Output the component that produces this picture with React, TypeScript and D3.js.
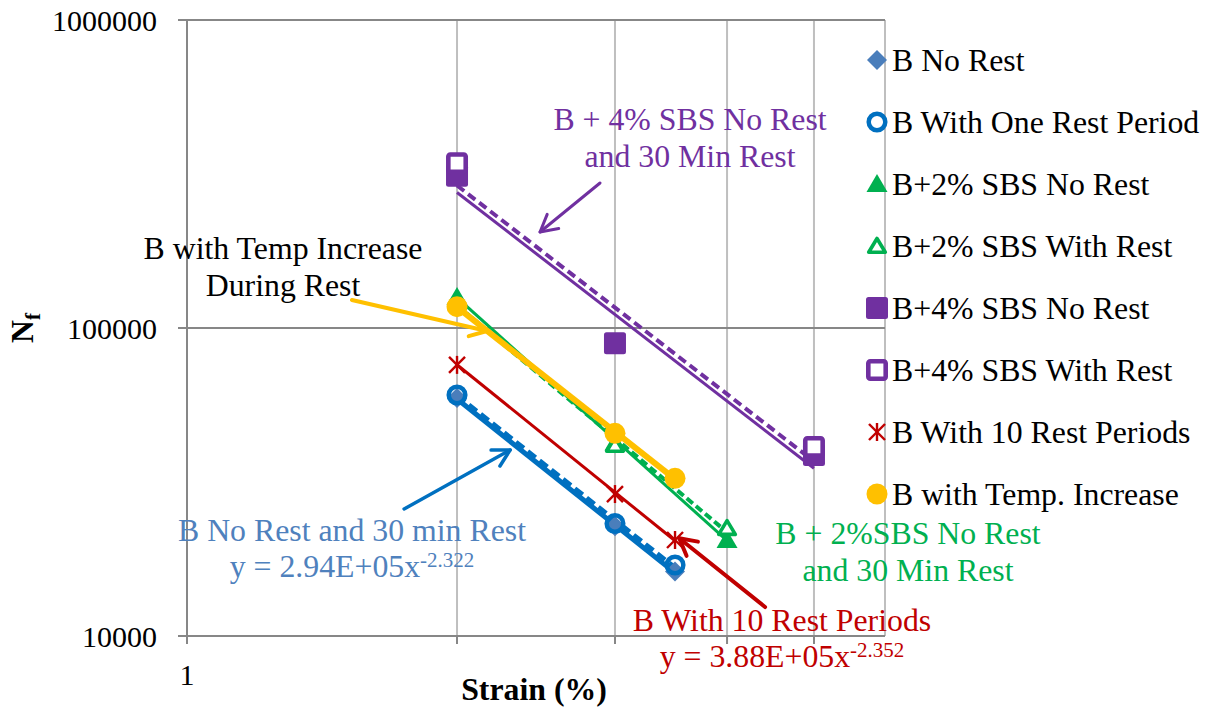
import React from 'react';
import * as d3 from 'd3';

// ---- data ----
const seriesNames = [
  'B No Rest',
  'B With One Rest Period',
  'B+2% SBS No Rest',
  'B+2% SBS With Rest',
  'B+4% SBS No Rest',
  'B+4% SBS With Rest',
  'B With 10 Rest Periods',
  'B with Temp. Increase',
];

// [strain %, cycles to failure]
const bNoRest: [number, number][] = [[2, 59300], [3, 22700], [3.5, 16200]];
const bOneRest: [number, number][] = [[2, 60600], [3, 23200], [3.5, 17000]];
const sbs2NoRest: [number, number][] = [[2, 126000], [3, 42500], [4, 20500]];
const sbs2WithRest: [number, number][] = [[2, 121000], [3, 41700], [4, 22400]];
const sbs4NoRest: [number, number][] = [[2, 312000], [3, 89200], [5, 38700]];
const sbs4WithRest: [number, number][] = [[2, 343000], [5, 41100]];
const bTenRest: [number, number][] = [[2, 75900], [3, 28900], [3.5, 20500]];
const bTempIncrease: [number, number][] = [[2, 117300], [3, 45500], [3.5, 32500]];

const seriesData = [bNoRest, bOneRest, sbs2NoRest, sbs2WithRest, sbs4NoRest, sbs4WithRest, bTenRest, bTempIncrease];
const markerKinds = ['diamond', 'circleOpen', 'triFilled', 'triOpen', 'squareFilled', 'squareOpen', 'star', 'circleFilled'];
const markerColors = ['#4A7EBB', '#0070C0', '#00B050', '#00B050', '#7030A0', '#7030A0', '#C00000', '#FFC000'];

// power-law trendlines  Nf = a * strain^b
const trendCoef = [2.94e5, 2.97e5, 7.71e5, 6.46e5, 1.31e6, 1.38e6, 3.88e5, 5.76e5];
const trendExp = [-2.322, -2.3, -2.62, -2.447, -2.25, -2.25, -2.352, -2.3];
const trendFrom = [2, 2, 2, 2, 2, 2, 2, 2];
const trendTo = [3.5, 3.5, 4, 4, 5, 5, 3.5, 3.5];
const trendColors = ['#0070C0', '#0070C0', '#00B050', '#00B050', '#7030A0', '#7030A0', '#C00000', '#FFC000'];
const trendWidths = [5, 5, 3, 4, 3, 4, 3, 6];
const trendDashes = [null, '10 5', null, '8 4', null, '9 5', null, null];

const xGridValues = [2, 3, 4, 5, 6];
const xTickValues = [1, 2, 3, 4, 5];
const xTickLabels = ['1'];
const yTickValues = [10000, 100000, 1000000];
const yTickLabels = ['10000', '100000', '1000000'];

// annotation arrows in data space: [tailStrain, tailNf, tipStrain, tipNf]
const arrowColors = ['#7030A0', '#FFC000', '#0070C0', '#C00000'];
const arrowWidths = [3, 4, 3.5, 4];
const arrowPaths: [number, number, number, number][] = [
  [2.887, 295700, 2.475, 205000],
  [1.527, 123300, 2.16, 97800],
  [1.746, 25850, 2.292, 40180],
  [4.41, 12420, 3.538, 20760],
];

const FONT = "'Liberation Serif', 'Times New Roman', serif";

function Marker({ kind, cx, cy, color }: { kind: string; cx: number; cy: number; color: string }) {
  const t = `translate(${cx},${cy})`;
  switch (kind) {
    case 'diamond':
      return <path transform={t} d="M0,-10L10,0L0,10L-10,0Z" fill={color} />;
    case 'circleOpen':
      return <circle cx={cx} cy={cy} r={8.3} fill="none" stroke={color} strokeWidth={4.5} />;
    case 'triFilled':
      return <path transform={t} d="M0,-10L10.5,8L-10.5,8Z" fill={color} />;
    case 'triOpen':
      return <path transform={t} d="M0,-7.5L8.3,6.3L-8.3,6.3Z" fill="#fff" stroke={color} strokeWidth={3.6} strokeLinejoin="round" />;
    case 'squareFilled':
      return <rect transform={t} x={-11} y={-11} width={22} height={22} rx={2.5} fill={color} />;
    case 'squareOpen':
      return <rect transform={t} x={-8.7} y={-8.7} width={17.4} height={17.4} rx={2} fill="#fff" stroke={color} strokeWidth={4.6} />;
    case 'star':
      return (
        <g transform={t} stroke={color} strokeWidth={2.4}>
          <line x1={-8} y1={-8} x2={8} y2={8} />
          <line x1={-8} y1={8} x2={8} y2={-8} />
          <line x1={0} y1={-9} x2={0} y2={9} />
        </g>
      );
    case 'circleFilled':
      return <circle cx={cx} cy={cy} r={10.5} fill={color} />;
    default:
      return null;
  }
}

function Arrow({ x1, y1, x2, y2, color, width }: { x1: number; y1: number; x2: number; y2: number; color: string; width: number }) {
  const ang = Math.atan2(y2 - y1, x2 - x1);
  const len = 19;
  const spread = 0.5;
  const a1 = ang + Math.PI - spread;
  const a2 = ang + Math.PI + spread;
  const h1 = [x2 + len * Math.cos(a1), y2 + len * Math.sin(a1)];
  const h2 = [x2 + len * Math.cos(a2), y2 + len * Math.sin(a2)];
  return (
    <g stroke={color} strokeWidth={width} fill="none" strokeLinecap="round" strokeLinejoin="round">
      <line x1={x1} y1={y1} x2={x2} y2={y2} />
      <path d={`M${h1[0]},${h1[1]}L${x2},${y2}L${h2[0]},${h2[1]}`} />
    </g>
  );
}

export default function App() {
  const W = 1214;
  const H = 710;
  const x = d3.scaleLog().domain([1, 6]).range([187, 885]);
  const y = d3.scaleLog().domain([1e4, 1e6]).range([636, 20]);
  const [x0, x1] = x.range();
  const [yb, yt] = y.range();

  const line = d3
    .line<[number, number]>()
    .x((d) => x(d[0]))
    .y((d) => y(d[1]));

  const legendX = 877;
  const legendY0 = 60;
  const legendStep = 62;
  const fs = 31.8;

  return (
    <svg
      width={W}
      height={H}
      style={{ position: 'absolute', left: 0, top: 0, background: '#fff' }}
      fontFamily={FONT}
    >
      <rect width={W} height={H} fill="#fff" />

      {/* vertical gridlines */}
      {xGridValues.map((v) => (
        <line key={`vg${v}`} x1={x(v)} x2={x(v)} y1={yt} y2={yb} stroke="#BFBFBF" strokeWidth={2} />
      ))}
      {/* horizontal gridlines */}
      {yTickValues.slice(1).map((v) => (
        <line key={`hg${v}`} x1={x0} x2={x1} y1={y(v)} y2={y(v)} stroke="#878787" strokeWidth={2} />
      ))}

      {/* axes */}
      <line x1={x0} x2={x0} y1={yt} y2={yb} stroke="#878787" strokeWidth={2} />
      <line x1={x0} x2={x1} y1={yb} y2={yb} stroke="#878787" strokeWidth={2} />
      {xTickValues.map((v) => (
        <line key={`xt${v}`} x1={x(v)} x2={x(v)} y1={yb} y2={yb + 8} stroke="#878787" strokeWidth={2} />
      ))}
      {yTickValues.map((v) => (
        <line key={`yt${v}`} x1={x0 - 9} x2={x0} y1={y(v)} y2={y(v)} stroke="#878787" strokeWidth={2} />
      ))}

      {/* tick labels */}
      {yTickValues.map((v, i) => (
        <text key={`yl${v}`} x={157} y={y(v) + 11} fontSize={30} textAnchor="end" fill="#000">
          {yTickLabels[i]}
        </text>
      ))}
      {xTickLabels.map((lab) => (
        <text key={`xl${lab}`} x={x(+lab)} y={685} fontSize={30} textAnchor="middle" fill="#000">
          {lab}
        </text>
      ))}

      {/* axis titles */}
      <text x={534} y={700} fontSize={fs} fontWeight="bold" textAnchor="middle">
        Strain (%)
      </text>
      <text transform="translate(33,343) rotate(-90)" fontSize={fs} fontWeight="bold">
        N
        <tspan fontSize={21} dy={7}>
          f
        </tspan>
      </text>

      {/* trendlines */}
      {trendCoef.map((a, i) => {
        const pts: [number, number][] = [trendFrom[i], trendTo[i]].map((s) => [s, a * Math.pow(s, trendExp[i])]);
        return (
          <path
            key={`tr${i}`}
            d={line(pts) || ''}
            fill="none"
            stroke={trendColors[i]}
            strokeWidth={trendWidths[i]}
            strokeDasharray={trendDashes[i] || undefined}
          />
        );
      })}

      {/* data markers */}
      {seriesData.map((pts, i) =>
        pts.map((p, j) => (
          <Marker key={`m${i}-${j}`} kind={markerKinds[i]} cx={x(p[0])} cy={y(p[1])} color={markerColors[i]} />
        ))
      )}

      {/* legend */}
      {seriesNames.map((name, i) => (
        <g key={`lg${i}`}>
          <Marker kind={markerKinds[i]} cx={legendX} cy={legendY0 + i * legendStep} color={markerColors[i]} />
          <text x={892} y={legendY0 + i * legendStep + 11} fontSize={fs} fill="#000">
            {name}
          </text>
        </g>
      ))}

      {/* annotation arrows */}
      {arrowPaths.map((p, i) => (
        <Arrow
          key={`ar${i}`}
          x1={x(p[0])}
          y1={y(p[1])}
          x2={x(p[2])}
          y2={y(p[3])}
          color={arrowColors[i]}
          width={arrowWidths[i]}
        />
      ))}

      {/* annotation labels */}
      <g fontSize={fs} textAnchor="middle">
        <text x={690} y={130} fill="#7030A0">B + 4% SBS No Rest</text>
        <text x={690} y={167} fill="#7030A0">and 30 Min Rest</text>

        <text x={283} y={259} fill="#000">B with Temp Increase</text>
        <text x={283} y={296} fill="#000">During Rest</text>

        <text x={352} y={541} fill="#4F81BD">B No Rest and 30 min Rest</text>
        <text x={352} y={577} fill="#4F81BD">
          y = 2.94E+05x
          <tspan fontSize={21} dy={-10}>-2.322</tspan>
        </text>

        <text x={908} y={544} fill="#00B050">B + 2%SBS No Rest</text>
        <text x={908} y={581} fill="#00B050">and 30 Min Rest</text>

        <text x={782} y={631} fill="#C00000">B With 10 Rest Periods</text>
        <text x={782} y={667} fill="#C00000">
          y = 3.88E+05x
          <tspan fontSize={21} dy={-10}>-2.352</tspan>
        </text>
      </g>
    </svg>
  );
}
